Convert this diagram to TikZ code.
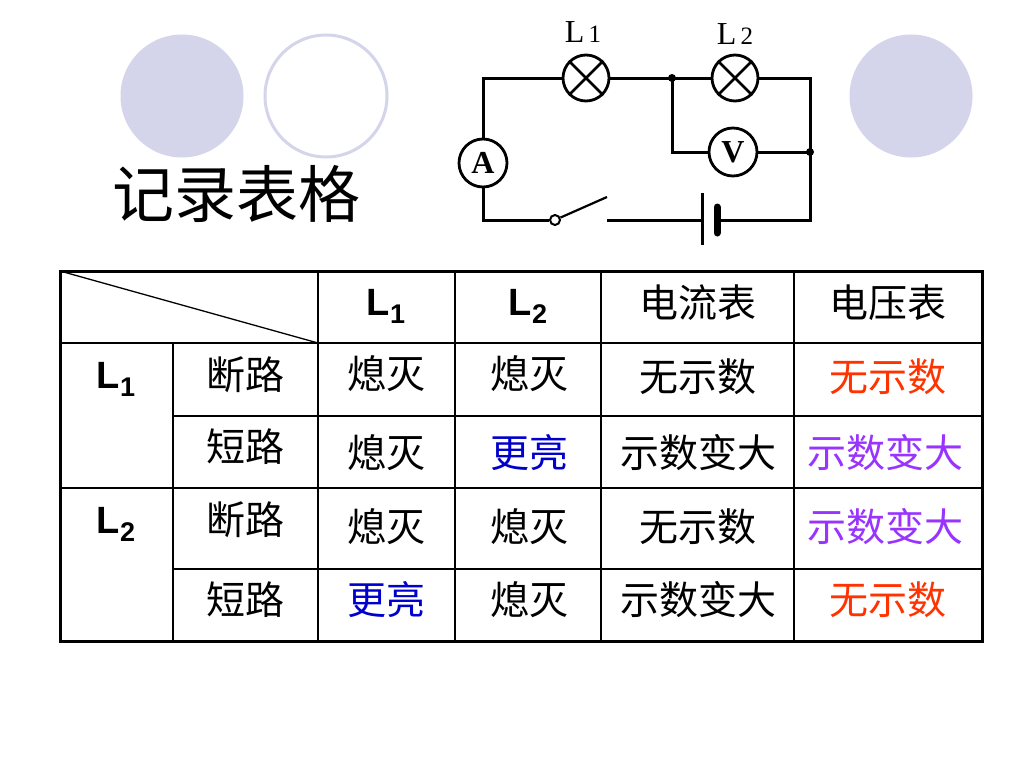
\documentclass[tikz,border=0pt]{standalone}
\usepackage{fontspec}
\setmainfont{Liberation Serif}
\newfontfamily\cjk{Noto Sans CJK SC}
\newfontfamily\arialf{Liberation Sans}
\definecolor{lav}{HTML}{D4D4EA}
\definecolor{redt}{HTML}{FF3300}
\definecolor{purt}{HTML}{9933FF}
\definecolor{bluet}{HTML}{0000CC}
\begin{document}
\begin{tikzpicture}[x=1pt,y=-1pt,
 wire/.style={line width=3pt},
 meter/.style={circle,draw,line width=2.8pt,minimum size=48pt,inner sep=0pt,font=\bfseries\fontsize{32}{32}\selectfont},
 lamp/.style={circle,draw,line width=2.8pt,minimum size=46pt,inner sep=0pt},
 cell/.style={font=\cjk\fontsize{39}{39}\selectfont,inner sep=0pt,anchor=center},
 lbl/.style={font=\arialf\bfseries\fontsize{38}{38}\selectfont,inner sep=0pt,anchor=base},
 clbl/.style={font=\fontsize{32}{32}\selectfont,inner sep=0pt,anchor=base},
 gridline/.style={line width=1.8pt},
 frameline/.style={line width=3pt}]

\useasboundingbox (0,0) rectangle (1024,768);
\fill[white] (0,0) rectangle (1024,768);

% decorative circles
\node[circle,fill=lav,minimum size=123pt,inner sep=0pt] (c1) at (182,96) {};
\node[circle,draw=lav,line width=3pt,minimum size=122pt,inner sep=0pt] (c2) at (326,96) {};
\node[circle,fill=lav,minimum size=123pt,inner sep=0pt] (c3) at (911,96) {};

% title
\node[font=\cjk\fontsize{62}{62}\selectfont,inner sep=0pt] (title) at (236,194) {记录表格};

% circuit
\coordinate (tl) at (483,78);
\coordinate (j1) at (672,78);
\coordinate (tr) at (810,78);
\coordinate (j2) at (810,152);
\coordinate (jv) at (672,152);
\coordinate (br) at (810,220);
\coordinate (bl) at (483,220);
\coordinate (swt) at (607,197);
\coordinate (swe) at (607,220);
\coordinate (bp) at (702,220);
\coordinate (bn) at (717,220);
\coordinate (bpt) at (702,193);
\coordinate (bpb) at (702,245);
\coordinate (bnt) at (717,207);
\coordinate (bnb) at (717,233);

\node[lamp] (la) at (586,78) {};
\node[lamp] (lb) at (735,78) {};
\node[meter] (am) at (483,163) {A};
\node[meter] (vm) at (733,152) {V};
\node[circle,draw,line width=2pt,minimum size=10pt,inner sep=0pt] (sw) at (555,220) {};

\draw[line width=2.5pt] (la.45) -- (la.225) (la.135) -- (la.315);
\draw[line width=2.5pt] (lb.45) -- (lb.225) (lb.135) -- (lb.315);

\draw[wire] (am.north) -- (tl) -- (la.west);
\draw[wire] (la.east) -- (j1) -- (lb.west);
\draw[wire] (lb.east) -- (tr) -- (br) -- (bn);
\draw[wire] (j1) -- (jv) -- (vm.west);
\draw[wire] (vm.east) -- (j2);
\draw[wire] (am.south) -- (bl) -- (sw.west);
\draw[line width=2.2pt] (sw.24) -- (swt);
\draw[wire] (swe) -- (bp);
\draw[line width=3pt] (bpt) -- (bpb);
\draw[line width=7pt,line cap=round] (bnt) -- (bnb);
\fill (j1) circle (4pt);
\fill (j2) circle (4pt);

\node[clbl] (lab1) at (583,42) {L\kern4pt{\fontsize{25}{25}\selectfont 1}};
\node[clbl] (lab2) at (735,45) {L\kern4pt{\fontsize{25}{25}\selectfont 2}};

% table
\draw[gridline] (60,343) -- (982,343);
\draw[gridline] (173,416) -- (982,416);
\draw[gridline] (60,488) -- (982,488);
\draw[gridline] (173,569) -- (982,569);
\draw[gridline] (173,343) -- (173,641);
\draw[gridline] (318,271) -- (318,641);
\draw[gridline] (455,271) -- (455,641);
\draw[gridline] (601,271) -- (601,641);
\draw[gridline] (794,271) -- (794,641);
\draw[line width=1.3pt] (60,271) -- (318,343);
\draw[frameline] (60,271) rectangle (982,641);

% header
\node[lbl] (hl1) at (386,315) {L\raisebox{-8pt}{\fontsize{27}{27}\selectfont 1}};
\node[lbl] (hl2) at (528,315) {L\raisebox{-8pt}{\fontsize{27}{27}\selectfont 2}};
\node[cell] (hA) at (698,303) {电流表};
\node[cell] (hV) at (888,303) {电压表};

% row labels
\node[lbl] (rl1) at (116,388) {L\raisebox{-8pt}{\fontsize{27}{27}\selectfont 1}};
\node[lbl] (rl2) at (116,533) {L\raisebox{-8pt}{\fontsize{27}{27}\selectfont 2}};

\node[cell] (s1) at (245,375) {断路};
\node[cell] (s2) at (245,447) {短路};
\node[cell] (s3) at (245,520) {断路};
\node[cell] (s4) at (245,600) {短路};

% column L1
\node[cell] (a1) at (386,374) {熄灭};
\node[cell] (a2) at (386,453) {熄灭};
\node[cell] (a3) at (386,527) {熄灭};
\node[cell,text=bluet] (a4) at (386,600) {更亮};

% column L2
\node[cell] (b1) at (529,374) {熄灭};
\node[cell,text=bluet] (b2) at (529,453) {更亮};
\node[cell] (b3) at (529,527) {熄灭};
\node[cell] (b4) at (529,600) {熄灭};

% ammeter column
\node[cell] (d1) at (698,377) {无示数};
\node[cell] (d2) at (698,453) {示数变大};
\node[cell] (d3) at (698,527) {无示数};
\node[cell] (d4) at (698,600) {示数变大};

% voltmeter column
\node[cell,text=redt] (e1) at (888,377) {无示数};
\node[cell,text=purt] (e2) at (885,453) {示数变大};
\node[cell,text=purt] (e3) at (885,527) {示数变大};
\node[cell,text=redt] (e4) at (888,600) {无示数};
\end{tikzpicture}
\end{document}
